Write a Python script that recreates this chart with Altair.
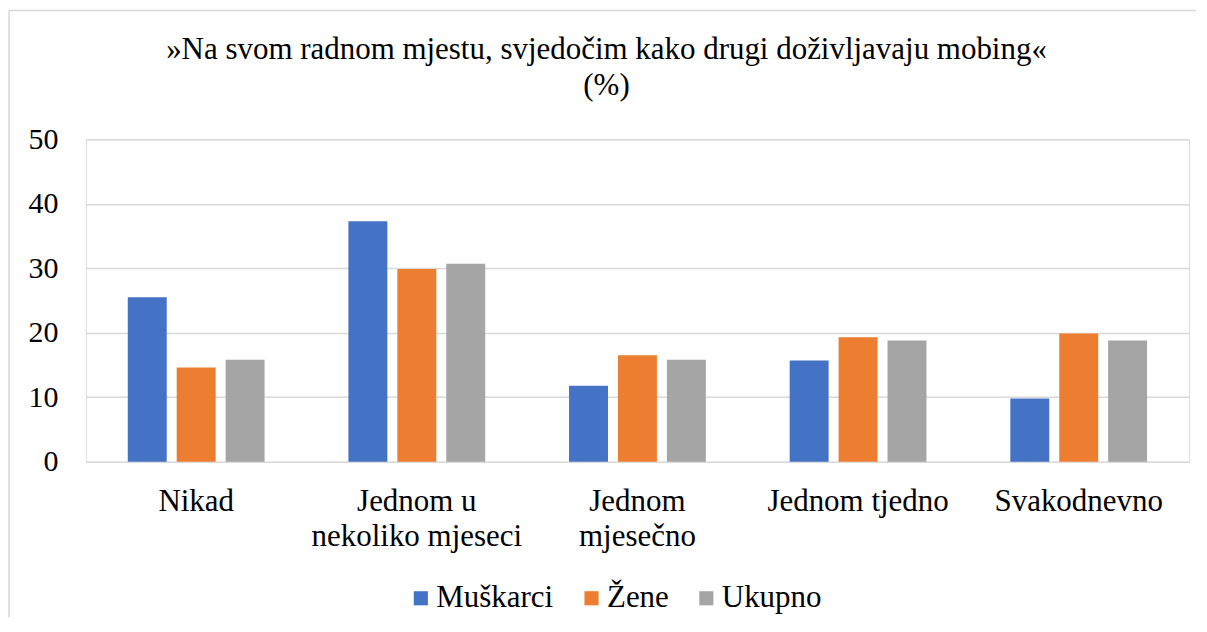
import altair as alt
import pandas as pd

categories = ["Nikad", "Jednom u nekoliko mjeseci", "Jednom mjesečno", "Jednom tjedno", "Svakodnevno"]
series = ["Muškarci", "Žene", "Ukupno"]
muskarci = [25.5, 37.3, 11.8, 15.7, 9.8]
zene = [14.6, 29.9, 16.5, 19.3, 19.9]
ukupno = [15.8, 30.7, 15.8, 18.8, 18.8]
colors = ["#4472C4", "#ED7D31", "#A5A5A5"]

rows = []
for i, c in enumerate(categories):
    for s, vals in zip(series, [muskarci, zene, ukupno]):
        rows.append({"kategorija": c, "serija": s, "vrijednost": vals[i]})
df = pd.DataFrame(rows)

font = "Liberation Serif"

label_expr = ("datum.label == 'Jednom u nekoliko mjeseci' ? ['Jednom u', 'nekoliko mjeseci'] : "
              "datum.label == 'Jednom mjesečno' ? ['Jednom', 'mjesečno'] : datum.label")

bars = alt.Chart(df).mark_bar().encode(
    x=alt.X("kategorija:N", sort=categories, title=None,
            scale=alt.Scale(paddingInner=0.38, paddingOuter=0.19),
            axis=alt.Axis(labelAngle=0, labelExpr=label_expr, labelFont=font, labelFontSize=31,
                          labelColor="#000000", labelLineHeight=35, labelPadding=25,
                          labelLimit=400, labelOverlap=False,
                          domain=False, ticks=False, grid=False, labelBaseline="top")),
    xOffset=alt.XOffset("serija:N", sort=series,
                        scale=alt.Scale(paddingInner=0.204, paddingOuter=0)),
    y=alt.Y("vrijednost:Q", title=None,
            scale=alt.Scale(domain=[0, 50]),
            axis=alt.Axis(values=[0, 10, 20, 30, 40, 50], labelFont=font, labelFontSize=30,
                          labelColor="#000000", labelPadding=28, domain=False, ticks=False,
                          gridColor="#d9d9d9", gridWidth=1.5)),
    color=alt.Color("serija:N", sort=series,
                    scale=alt.Scale(domain=series, range=colors),
                    legend=alt.Legend(title=None, orient="none", direction="horizontal",
                                      legendX=320, legendY=444,
                                      labelFont=font, labelFontSize=31, labelColor="#000000",
                                      symbolType="square", symbolSize=200, symbolStrokeWidth=0,
                                      columnPadding=22, labelOffset=0, labelLimit=400)),
)

frame_src = alt.Chart(pd.DataFrame({"k": [0]}))
left_line = frame_src.mark_rule(color="#d9d9d9", strokeWidth=1.5).encode(
    x=alt.value(-77), y=alt.value(-129), y2=alt.value(479))
top_line = frame_src.mark_rule(color="#d9d9d9", strokeWidth=1.5).encode(
    y=alt.value(-129), x=alt.value(-77), x2=alt.value(1112))

chart = alt.layer(bars, left_line, top_line).properties(
    width=1105,
    height=323,
    title=alt.TitleParams(
        text=["»Na svom radnom mjestu, svjedočim kako drugi doživljavaju mobing«", "(%)"],
        font=font, fontSize=31, fontWeight="normal", color="#000000",
        anchor="middle", frame="group", lineHeight=36, offset=-92, dx=-31),
    padding={"left": 0, "top": 1, "right": 2, "bottom": 0},
).configure_view(stroke=None).configure(background="#ffffff")

chart.save("out.html", embed_options={"renderer": "svg", "actions": False})
